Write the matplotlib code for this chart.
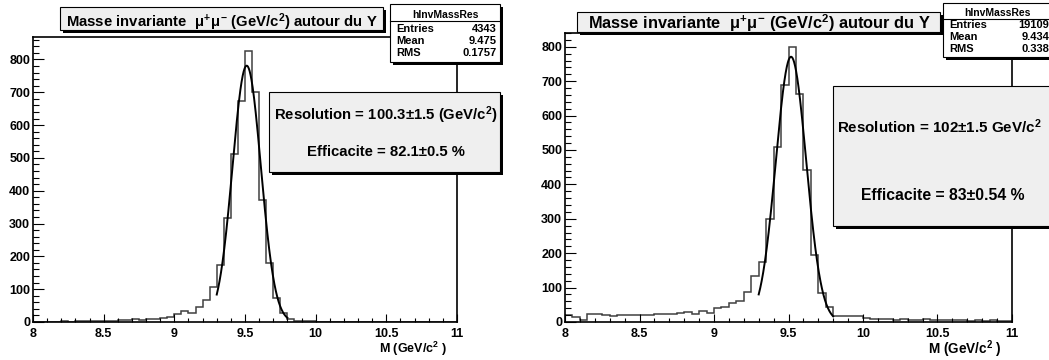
"""
Invariant mass of mu+mu- around the Upsilon, two reconstructions side by side.
"""
import numpy as np
import matplotlib
matplotlib.use('Agg')
import matplotlib.pyplot as plt
from matplotlib.patches import Rectangle
from matplotlib.ticker import MultipleLocator

plt.rcParams['font.family'] = ['Liberation Sans', 'DejaVu Sans']
plt.rcParams['font.weight'] = 'bold'
plt.rcParams['mathtext.fontset'] = 'custom'
plt.rcParams['mathtext.rm'] = 'Liberation Sans:bold'
plt.rcParams['mathtext.it'] = 'Liberation Sans:bold'
plt.rcParams['mathtext.bf'] = 'Liberation Sans:bold'

# histogram binning (GeV/c^2)
x_min, x_max, bin_w = 8.0, 11.0, 0.05

# left panel: counts per 0.05 bin from 8.00 to 10.95
counts_left = [
    1, 0, 1, 1, 2, 1, 2, 3, 2, 4,
    3, 4, 6, 5, 8, 7, 10, 9, 12, 15,
    25, 32, 27, 46, 68, 106, 173, 316, 511, 672,
    827, 702, 371, 179, 73, 27, 9, 4, 3, 2,
    1, 1, 0, 1, 0, 0, 1, 0, 0, 0,
    1, 0, 0, 0, 0, 0, 0, 0, 0, 0,
]
# right panel
counts_right = [
    20, 14, 6, 22, 24, 20, 17, 20, 20, 20,
    21, 21, 22, 22, 23, 25, 28, 23, 33, 26,
    40, 44, 54, 62, 88, 135, 173, 299, 508, 689,
    800, 663, 441, 194, 83, 44, 18, 17, 17, 16,
    11, 9, 8, 9, 7, 8, 6, 7, 8, 7,
    6, 5, 5, 7, 4, 5, 4, 5, 4, 3,
]

# gaussian fits: amplitude, mean, sigma, fit range
fit_left = (781, 9.512, 0.1003, 9.30, 9.80)
fit_right = (771, 9.517, 0.102, 9.30, 9.80)

stats_left = ('4343', '9.475', '0.1757')
stats_right = ('19109', '9.434', '0.338')

res_left = 'Resolution = 100.3\u00b11.5 (GeV/c$^{2}$)'
eff_left = 'Efficacite = 82.1\u00b10.5 %'
res_right = 'Resolution = 102\u00b11.5 GeV/c$^{2}$'
eff_right = 'Efficacite = 83\u00b10.54 %'

title = 'Masse invariante  $\\mu^{+}\\mu^{-}$ (GeV/c$^{2}$) autour du Y'
xlabel = 'M (GeV/c$^{2}$ )'

W, H = 1049, 360
fig = plt.figure(figsize=(W / 100, H / 100), dpi=100)
fig.patch.set_facecolor('white')


def fx(px):
    return px / W


def fy(py):
    return 1 - py / H


def box(x0, y0, x1, y1, shadow=3, face='#efefef'):
    """Draw a ROOT style pave with a dark shadow, pixel coords from top left."""
    fig.add_artist(Rectangle((fx(x0 + shadow), fy(y1 + shadow)), fx(x1 - x0), (y1 - y0) / H,
                             transform=fig.transFigure, facecolor='black',
                             edgecolor='none', zorder=10))
    fig.add_artist(Rectangle((fx(x0), fy(y1)), fx(x1 - x0), (y1 - y0) / H,
                             transform=fig.transFigure, facecolor=face,
                             edgecolor='black', linewidth=0.8, zorder=11))


def panel(rect, counts, fit):
    ax = fig.add_axes(rect)
    edges = np.linspace(x_min, x_max, len(counts) + 1)
    ax.stairs(counts, edges, color='#404040', linewidth=1.1)
    a, mu, sig, lo, hi = fit
    xs = np.linspace(lo, hi, 300)
    ax.plot(xs, a * np.exp(-0.5 * ((xs - mu) / sig) ** 2), color='black', linewidth=1.4)
    ax.set_xlim(x_min, x_max)
    ax.set_ylim(0, 1.05 * max(counts))
    ax.xaxis.set_major_locator(MultipleLocator(0.5))
    ax.xaxis.set_minor_locator(MultipleLocator(0.1))
    ax.yaxis.set_major_locator(MultipleLocator(100))
    ax.yaxis.set_minor_locator(MultipleLocator(20))
    ax.tick_params(axis='x', which='both', direction='in', top=False, pad=4, labelsize=9)
    ax.tick_params(axis='y', which='both', direction='in', right=False, pad=2, labelsize=9)
    ax.tick_params(axis='x', which='major', length=6, width=0.8)
    ax.tick_params(axis='x', which='minor', length=3, width=0.8)
    ax.tick_params(axis='y', which='major', length=8, width=0.8)
    ax.tick_params(axis='y', which='minor', length=4, width=0.8)
    ax.xaxis.set_major_formatter(plt.FuncFormatter(lambda v, p: f'{v:g}'))
    for s in ax.spines.values():
        s.set_linewidth(1.2)
    return ax


panel([fx(33), fy(322), (457 - 33) / W, (322 - 37) / H], counts_left, fit_left)
panel([fx(565), fy(322), (1012 - 565) / W, (322 - 33) / H], counts_right, fit_right)

# titles
box(60, 7, 383, 30)
fig.text(fx(222), fy(27), title, fontsize=10.7, ha='center', va='baseline', zorder=12)
box(577, 12, 940, 32)
fig.text(fx(759), fy(29), title, fontsize=11.8, ha='center', va='baseline', zorder=12)


# stats boxes
def stats(x0, y0, x1, y1, ys, values):
    box(x0, y0, x1, y1, shadow=3, face='white')
    fig.add_artist(plt.Line2D([fx(x0), fx(x1)], [fy(ys[0] + 6), fy(ys[0] + 6)],
                              transform=fig.transFigure, color='black', linewidth=0.8, zorder=12))
    fig.text(fx((x0 + x1) / 2), fy(ys[0]), 'hInvMassRes', fontsize=7.5, ha='center', va='center', zorder=12)
    for name, val, y in zip(['Entries', 'Mean', 'RMS'], values, ys[1:]):
        fig.text(fx(x0 + 6), fy(y), name, fontsize=8, ha='left', va='center', zorder=12)
        fig.text(fx(x1 - 3), fy(y), val, fontsize=8, ha='right', va='center', zorder=12)


stats(390, 4, 500, 62, [15, 29, 41, 53], stats_left)
stats(943, 3, 1052, 57, [13, 25, 37, 49], stats_right)

# resolution / efficiency paves
box(269, 92, 500, 172)
fig.text(fx(386), fy(115), res_left, fontsize=10.7, ha='center', va='center', zorder=12)
fig.text(fx(386), fy(152), eff_left, fontsize=10.7, ha='center', va='center', zorder=12)
box(833, 86, 1062, 226)
fig.text(fx(837), fy(127), res_right, fontsize=10.9, ha='left', va='center', zorder=12)
fig.text(fx(943), fy(195), eff_right, fontsize=11.3, ha='center', va='center', zorder=12)

# axis labels
fig.text(fx(447), fy(349), xlabel, fontsize=9, ha='right', va='center')
fig.text(fx(1002), fy(349), xlabel, fontsize=9.8, ha='right', va='center')

fig.savefig('out.png', dpi=100)
